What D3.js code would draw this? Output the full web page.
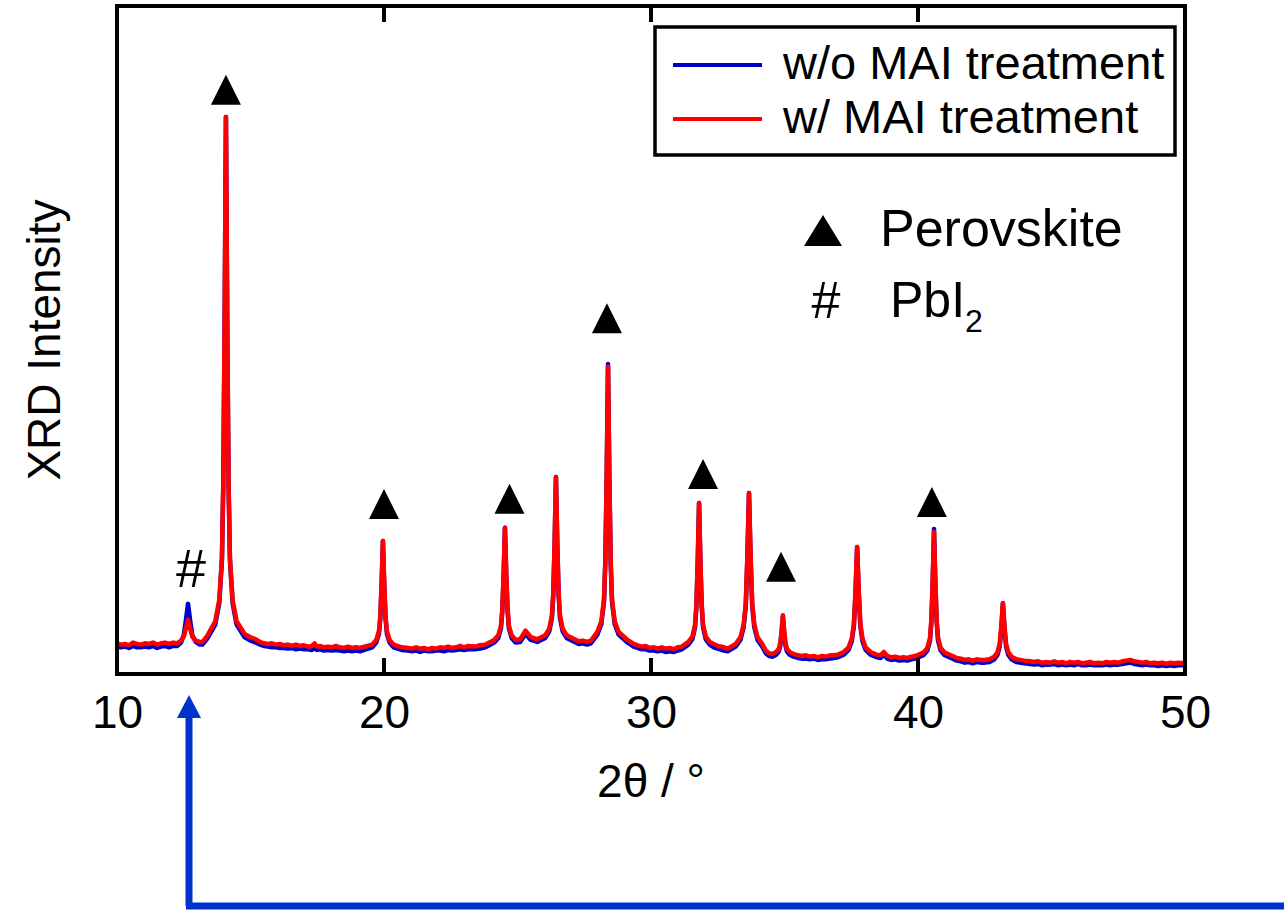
<!DOCTYPE html>
<html>
<head>
<meta charset="utf-8">
<script src="https://cdn.jsdelivr.net/npm/d3@7"></script>
<style>
    body { margin: 0; background: white; }
    text { font-family: "Liberation Sans", Arial, sans-serif; fill: black; }
</style>
</head>
<body>
<svg id="grafica"></svg>
<script>
/**
 * Datos (2theta en grados, intensidad en unidades arbitrarias)
 */
const ticksX = [10, 20, 30, 40, 50];
const ticksInternos = [20, 30, 40];
const nombresSeries = ["w/o MAI treatment", "w/ MAI treatment"];
const coloresSeries = ["#0000cc", "#ff0000"];

// w/o MAI treatment (azul)
const sinTratamiento = [
    [10.0,41],[10.15,40],[10.3,41],[10.45,39],[10.6,42],[10.75,40],[10.9,40],[11.05,41],[11.2,40],
    [11.35,42],[11.5,39],[11.65,41],[11.8,42],[11.95,40],[12.1,42],[12.25,42],
    [12.4,47],[12.5,58],[12.58,80],[12.66,105],[12.74,80],[12.82,58],[12.95,48],[13.1,44],
    [13.2,44],[13.38,53],[13.68,74],[13.83,106],[13.93,170],[13.98,280],[14.03,516],[14.08,834],
    [14.13,516],[14.18,280],[14.23,170],[14.33,106],[14.48,74],[14.78,55],[15.0,50],[15.2,47],
    [15.35,44],[15.5,42],[15.65,41],[15.8,40],[15.95,40],[16.1,39],[16.25,39],[16.4,38],[16.55,39],
    [16.7,37],[16.85,38],[17.0,37],[17.15,37],[17.3,36],[17.4,39],[17.48,36],[17.6,37],[17.75,35],
    [17.9,36],[18.05,35],[18.2,36],[18.35,35],[18.5,34],[18.65,35],[18.8,34],[18.95,35],[19.1,34],
    [19.26,36],
    [19.56,40],[19.71,47],[19.81,60],[19.86,82],[19.91,131],[19.96,199],[20.01,131],[20.06,82],
    [20.11,60],[20.21,47],[20.36,40],[20.66,36],
    [20.9,35],[21.05,34],[21.2,35],[21.35,33],[21.5,35],[21.65,34],[21.8,34],[21.95,35],[22.1,35],
    [22.25,34],[22.4,36],[22.55,35],[22.7,36],[22.85,37],[23.0,36],[23.15,37],[23.4,37],[23.6,38],
    [23.8,40],
    [24.13,47],[24.28,54],[24.38,68],[24.43,93],[24.48,145],[24.53,219],[24.58,145],[24.63,93],
    [24.68,68],[24.78,54],[24.93,47],
    [25.1,48],[25.3,60],[25.5,51],
    [25.74,48],[26.04,54],[26.19,64],[26.29,84],[26.34,118],[26.39,192],[26.44,295],[26.49,192],
    [26.54,118],[26.59,84],[26.69,64],[26.84,54],[27.14,48],
    [27.3,45],[27.45,46],[27.6,44],[27.75,46],
    [27.99,59],[28.14,75],[28.24,108],[28.29,168],[28.34,294],[28.39,464],[28.44,294],[28.49,166],
    [28.54,108],[28.64,75],[28.79,59],[29.09,48],
    [29.35,41],[29.5,39],[29.65,37],[29.8,37],[29.95,35],[30.1,35],[30.25,34],[30.4,35],[30.55,33],
    [30.7,34],[30.85,33],[31.0,35],[31.15,37],
    [31.4,44],[31.55,52],[31.65,70],[31.7,100],[31.75,165],[31.8,256],[31.85,165],[31.9,100],
    [31.95,70],[32.05,52],[32.2,44],[32.35,40],[32.5,38],[32.65,36],
    [32.87,34],[33.17,41],[33.35,51],[33.47,70],[33.55,102],[33.61,173],[33.67,271],[33.73,173],
    [33.79,102],[33.87,70],[33.99,51],[34.17,41],
    [34.3,31],[34.42,27],
    [34.54,26],[34.69,29],[34.79,34],[34.84,42],[34.89,60],[34.94,86],[34.99,60],[35.04,42],
    [35.09,34],[35.19,29],[35.34,26],
    [35.5,24],[35.65,23],[35.8,23],[35.95,22],[36.1,23],[36.25,21],[36.4,22],[36.55,22],[36.7,23],
    [36.85,24],[37.0,25],
    [37.22,29],[37.4,36],[37.52,49],[37.6,72],[37.66,121],[37.72,190],[37.78,121],[37.84,72],
    [37.92,49],[38.04,36],[38.22,29],[38.45,25],
    [38.6,24],[38.72,29],[38.85,23],
    [39.0,21],[39.15,22],[39.3,20],[39.45,21],[39.6,20],[39.75,22],
    [39.9,23],[40.2,28],[40.35,35],[40.45,50],[40.5,77],[40.55,135],[40.6,217],[40.65,135],
    [40.7,77],[40.75,50],[40.85,35],[41.0,28],[41.3,23],
    [41.45,20],[41.6,19],[41.75,17],[41.9,18],[42.05,16],[42.2,18],[42.35,17],[42.5,17],
    [42.68,18],[42.86,22],[42.98,29],[43.06,41],[43.12,67],[43.18,106],[43.24,67],[43.3,41],
    [43.38,29],[43.5,22],[43.68,18],[43.98,16],
    [44.2,15],[44.35,14],[44.5,15],[44.65,13],[44.8,14],[44.95,14],[45.1,15],[45.25,13],[45.4,14],
    [45.55,13],[45.7,14],[45.85,13],[46.0,15],[46.15,13],[46.3,13],[46.45,14],[46.6,13],[46.75,13],
    [46.9,13],[47.05,14],[47.2,13],[47.35,14],[47.5,14],[47.65,15],[47.8,16],[47.95,17],[48.1,15],
    [48.25,14],[48.4,13],[48.55,14],[48.7,13],[48.85,13],[49.0,12],[49.15,13],[49.3,12],[49.45,13],
    [49.6,12],[49.75,13],[49.9,13],[50.0,14]
];

// w/ MAI treatment (rojo)
const conTratamiento = [
    [10.0,46],[10.15,44],[10.3,45],[10.45,43],[10.6,47],[10.75,45],[10.9,44],[11.05,46],[11.2,45],
    [11.35,47],[11.5,44],[11.65,46],[11.8,47],[11.95,45],[12.1,47],[12.25,46],
    [12.4,50],[12.5,56],[12.58,68],[12.66,81],[12.74,68],[12.82,56],[12.95,50],[13.1,48],
    [13.2,48],[13.38,57],[13.68,79],[13.83,111],[13.93,174],[13.98,284],[14.03,520],[14.08,834],
    [14.13,520],[14.18,284],[14.23,174],[14.33,111],[14.48,79],[14.78,60],[15.0,55],[15.2,52],
    [15.35,48],[15.5,46],[15.65,45],[15.8,46],[15.95,44],[16.1,45],[16.25,43],[16.4,44],[16.55,42],
    [16.7,44],[16.85,42],[17.0,43],[17.15,41],[17.3,42],[17.4,46],[17.48,41],[17.6,42],[17.75,40],
    [17.9,41],[18.05,40],[18.2,42],[18.35,40],[18.5,39],[18.65,41],[18.8,39],[18.95,40],[19.1,39],
    [19.26,41],
    [19.56,44],[19.71,51],[19.81,64],[19.86,86],[19.91,135],[19.96,199],[20.01,135],[20.06,86],
    [20.11,64],[20.21,51],[20.36,44],[20.66,40],
    [20.9,39],[21.05,38],[21.2,40],[21.35,38],[21.5,39],[21.65,37],[21.8,39],[21.95,38],[22.1,40],
    [22.25,39],[22.4,41],[22.55,39],[22.7,40],[22.85,42],[23.0,40],[23.15,42],[23.4,41],[23.6,43],
    [23.8,44],
    [24.13,51],[24.28,58],[24.38,72],[24.43,97],[24.48,149],[24.53,219],[24.58,149],[24.63,97],
    [24.68,72],[24.78,58],[24.93,51],
    [25.1,52],[25.3,65],[25.5,55],
    [25.74,52],[26.04,58],[26.19,68],[26.29,88],[26.34,122],[26.39,196],[26.44,295],[26.49,196],
    [26.54,122],[26.59,88],[26.69,68],[26.84,58],[27.14,52],
    [27.3,49],[27.45,50],[27.6,48],[27.75,50],
    [27.99,63],[28.14,79],[28.24,112],[28.29,170],[28.34,294],[28.39,460],[28.44,294],[28.49,170],
    [28.54,112],[28.64,79],[28.79,63],[29.09,52],
    [29.35,45],[29.5,43],[29.65,41],[29.8,42],[29.95,39],[30.1,40],[30.25,38],[30.4,40],[30.55,38],
    [30.7,39],[30.85,37],[31.0,40],[31.15,41],
    [31.4,48],[31.55,56],[31.65,74],[31.7,104],[31.75,169],[31.8,256],[31.85,169],[31.9,104],
    [31.95,74],[32.05,56],[32.2,48],[32.35,45],[32.5,42],[32.65,41],
    [32.87,38],[33.17,45],[33.35,55],[33.47,74],[33.55,106],[33.61,177],[33.67,271],[33.73,177],
    [33.79,106],[33.87,74],[33.99,55],[34.17,45],
    [34.3,35],[34.42,31],
    [34.54,30],[34.69,33],[34.79,38],[34.84,46],[34.89,64],[34.94,88],[34.99,64],[35.04,46],
    [35.09,38],[35.19,33],[35.34,30],
    [35.5,28],[35.65,27],[35.8,28],[35.95,26],[36.1,27],[36.25,25],[36.4,27],[36.55,26],[36.7,28],
    [36.85,28],[37.0,29],
    [37.22,33],[37.4,40],[37.52,53],[37.6,76],[37.66,125],[37.72,190],[37.78,125],[37.84,76],
    [37.92,53],[38.04,40],[38.22,33],[38.45,29],
    [38.6,28],[38.72,33],[38.85,27],
    [39.0,25],[39.15,26],[39.3,24],[39.45,25],[39.6,24],[39.75,26],
    [39.9,27],[40.2,32],[40.35,39],[40.45,54],[40.5,81],[40.55,137],[40.6,213],[40.65,137],
    [40.7,81],[40.75,54],[40.85,39],[41.0,32],[41.3,27],
    [41.45,24],[41.6,23],[41.75,21],[41.9,22],[42.05,20],[42.2,22],[42.35,21],[42.5,21],
    [42.68,22],[42.86,26],[42.98,33],[43.06,45],[43.12,71],[43.18,106],[43.24,71],[43.3,45],
    [43.38,33],[43.5,26],[43.68,22],[43.98,20],
    [44.2,19],[44.35,18],[44.5,19],[44.65,17],[44.8,18],[44.95,17],[45.1,19],[45.25,17],[45.4,18],
    [45.55,16],[45.7,18],[45.85,17],[46.0,18],[46.15,16],[46.3,17],[46.45,18],[46.6,16],[46.75,17],
    [46.9,16],[47.05,18],[47.2,17],[47.35,18],[47.5,17],[47.65,19],[47.8,20],[47.95,21],[48.1,19],
    [48.25,18],[48.4,17],[48.55,18],[48.7,16],[48.85,17],[49.0,16],[49.15,17],[49.3,15],[49.45,17],
    [49.6,16],[49.75,17],[49.9,16],[50.0,18]
];

// marcas de perovskita (triangulo): posicion 2theta, intensidad de la base del triangulo
const marcasPerovskita = [
    [14.08, 852], [20.0, 232], [24.7, 240], [28.35, 510], [31.95, 277], [34.87, 138], [40.52, 235]
];
// marca de PbI2 (#): posicion 2theta, intensidad de la linea base del texto
const marcasPbI2 = [[12.77, 130]];

/**
 * Seleccion y tamano del svg
 */
const anchoGrafica = 1284;
const altoGrafica = 911;
const svg = d3.select('#grafica')
    .attr('width', anchoGrafica)
    .attr('height', altoGrafica);

const marco = { izq: 117, der: 1185, arriba: 6, abajo: 674 };

const x = d3.scaleLinear().domain([10, 50]).range([marco.izq, marco.der]);
const y = d3.scaleLinear().domain([0, 1000]).range([marco.abajo, marco.arriba]);

/**
 * Curvas de difraccion
 */
const linea = d3.line()
    .x(d => x(d[0]))
    .y(d => y(d[1]));

svg.append('defs').append('clipPath').attr('id', 'recorte')
    .append('rect')
    .attr('x', marco.izq).attr('y', marco.arriba)
    .attr('width', marco.der - marco.izq).attr('height', marco.abajo - marco.arriba);

const curvas = svg.append('g').attr('clip-path', 'url(#recorte)');
[sinTratamiento, conTratamiento].forEach((serie, i) => {
    curvas.append('path')
        .datum(serie)
        .attr('fill', 'none')
        .attr('stroke', coloresSeries[i])
        .attr('stroke-width', 4.5)
        .attr('stroke-linejoin', 'round')
        .attr('d', linea);
});

/**
 * Marco y ticks internos
 */
svg.append('rect')
    .attr('x', marco.izq).attr('y', marco.arriba)
    .attr('width', marco.der - marco.izq).attr('height', marco.abajo - marco.arriba)
    .attr('fill', 'none')
    .attr('stroke', 'black')
    .attr('stroke-width', 4);

const ticks = svg.append('g').attr('stroke', 'black').attr('stroke-width', 4);
ticksInternos.forEach(t => {
    ticks.append('line')
        .attr('x1', x(t)).attr('x2', x(t))
        .attr('y1', marco.arriba).attr('y2', marco.arriba + 16);
    ticks.append('line')
        .attr('x1', x(t)).attr('x2', x(t))
        .attr('y1', marco.abajo).attr('y2', marco.abajo - 16);
});

const ejeX = svg.append('g')
    .attr('transform', `translate(0,${marco.abajo})`)
    .call(d3.axisBottom(x).tickValues(ticksX).tickSize(0).tickFormat(d3.format('d')));
ejeX.select('.domain').remove();
ejeX.selectAll('text')
    .attr('y', 54)
    .attr('dy', null)
    .style('font-size', '46px')
    .style('font-family', '"Liberation Sans", Arial, sans-serif')
    .attr('fill', 'black');

/**
 * Titulos de ejes
 */
svg.append('text')
    .attr('x', (marco.izq + marco.der) / 2)
    .attr('y', 797)
    .attr('text-anchor', 'middle')
    .style('font-size', '46px')
    .text('2θ / °');

svg.append('text')
    .attr('transform', 'translate(60,340) rotate(-90)')
    .attr('text-anchor', 'middle')
    .style('font-size', '46px')
    .text('XRD Intensity');

/**
 * Marcas de picos
 */
const triangulo = (cx, base, ancho, alto) =>
    `M${cx - ancho / 2},${base}L${cx + ancho / 2},${base}L${cx},${base - alto}Z`;

svg.append('g').selectAll('path')
    .data(marcasPerovskita)
    .join('path')
    .attr('d', d => triangulo(x(d[0]), y(d[1]), 30, 30))
    .attr('fill', 'black');

svg.append('g').selectAll('text')
    .data(marcasPbI2)
    .join('text')
    .attr('x', d => x(d[0]))
    .attr('y', d => y(d[1]))
    .attr('text-anchor', 'middle')
    .style('font-size', '54px')
    .text('#');

/**
 * Leyenda
 */
const leyenda = svg.append('g');
leyenda.append('rect')
    .attr('x', 655).attr('y', 27)
    .attr('width', 520).attr('height', 128)
    .attr('fill', 'white')
    .attr('stroke', 'black')
    .attr('stroke-width', 3.5);

nombresSeries.forEach((nombre, i) => {
    const yy = 65 + i * 54;
    leyenda.append('line')
        .attr('x1', 673).attr('x2', 762)
        .attr('y1', yy).attr('y2', yy)
        .attr('stroke', coloresSeries[i])
        .attr('stroke-width', 4);
    leyenda.append('text')
        .attr('x', 783)
        .attr('y', yy + 14)
        .style('font-size', '47px')
        .text(nombre);
});

// identificacion de fases
const fases = svg.append('g');
fases.append('path')
    .attr('d', triangulo(823, 246, 38, 31))
    .attr('fill', 'black');
fases.append('text')
    .attr('x', 880).attr('y', 246)
    .style('font-size', '52px')
    .text('Perovskite');
fases.append('text')
    .attr('x', 826).attr('y', 318)
    .attr('text-anchor', 'middle')
    .style('font-size', '52px')
    .text('#');
const pbi = fases.append('text')
    .attr('x', 890).attr('y', 317)
    .style('font-size', '50px');
pbi.append('tspan').text('PbI');
pbi.append('tspan').attr('dy', 15).style('font-size', '32px').text('2');

/**
 * Flecha azul
 */
const flecha = svg.append('g').attr('stroke', '#0033cc').attr('fill', '#0033cc');
flecha.append('path')
    .attr('d', 'M189,906 L189,716 M186,906 L1284,906')
    .attr('fill', 'none')
    .attr('stroke-width', 7);
flecha.append('path')
    .attr('d', 'M177,718 L201,718 L189,695 Z')
    .attr('stroke', 'none');
</script>
</body>
</html>
